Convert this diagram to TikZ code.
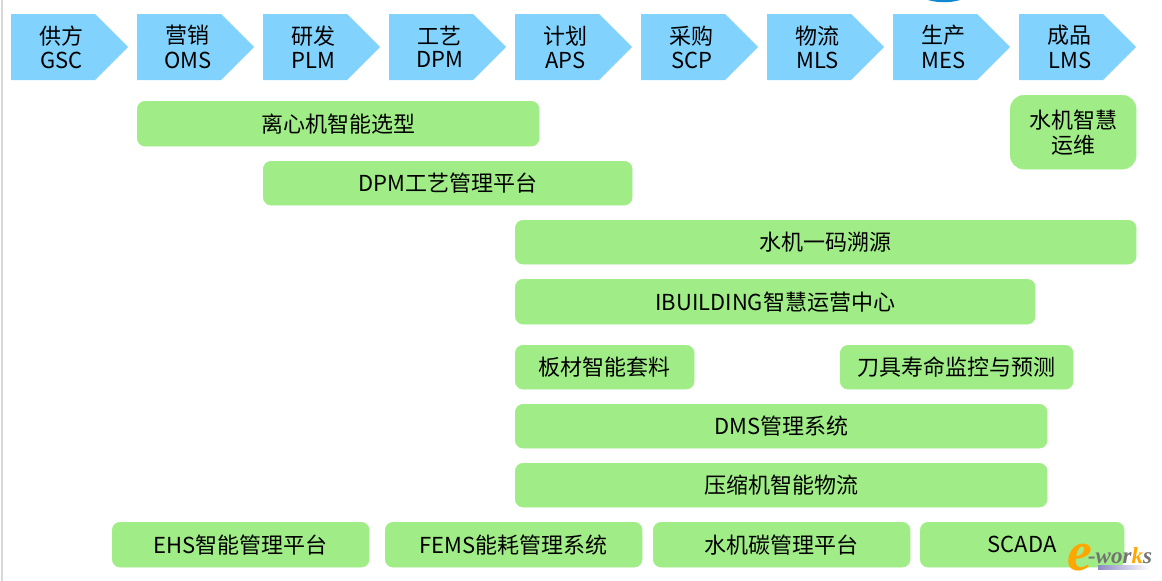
\documentclass[tikz,border=0pt]{standalone}
\usepackage{fontspec}
\setmainfont{Noto Sans CJK SC}
\usepackage{xcolor}
\usetikzlibrary{shapes.symbols, positioning}
\newfontfamily\logofont{Liberation Serif}
\definecolor{flowblue}{HTML}{81D3FD}
\definecolor{plangreen}{HTML}{A0ED87}
\newcommand{\chevtext}[2]{\makebox[84pt][c]{\hspace{17pt}\shortstack{#1\\[3pt]#2}}}
\tikzset{
  chevron/.style={signal, signal to=east, signal from=nowhere, signal pointer angle=90,
    fill=flowblue, minimum height=66pt, inner xsep=0pt, inner ysep=0pt, anchor=west,
    font=\fontsize{22}{25}\selectfont},
  plan/.style={rounded corners=8pt, fill=plangreen, draw=plangreen, anchor=north west, inner sep=0pt,
    align=center, font=\fontsize{22}{25}\selectfont},
}
\begin{document}
\begin{tikzpicture}[x=1pt, y=-1pt]
      \useasboundingbox (0, 0) rectangle (1162, 581);
      \fill[black!15] (1, 0) rectangle (3, 581);
      \fill[cyan!70!blue] (928, 0) .. controls (938, 3) and (950, 3) .. (960, 0) -- cycle;

      % value chain
      \foreach \name/\upper/\lower [count=\i from 0] in {gsc/供方/GSC, oms/营销/OMS, plm/研发/PLM, dpm/工艺/DPM,
        aps/计划/APS, scp/采购/SCP, mls/物流/MLS, mes/生产/MES, lms/成品/LMS}
        \node[chevron] (\name) at (11+126*\i, 47) {\chevtext{\upper}{\lower}};

      % projects
      \node[plan, minimum width=402pt, minimum height=45pt] (select) at (137, 101) {离心机智能选型};
      \node[plan, minimum width=369pt, minimum height=44pt] (craft) at (263, 161) {DPM工艺管理平台};
      \node[plan, minimum width=126pt, minimum height=74pt, rounded corners=14pt] (service) at (1010, 95) {水机智慧\\运维};
      \node[plan, minimum width=621pt, minimum height=44pt] (trace) at (515, 220) {水机一码溯源};
      \node[plan, minimum width=520pt, minimum height=45pt] (ibuilding) at (515, 279) {IBUILDING智慧运营中心};
      \node[plan, minimum width=179pt, minimum height=44pt] (nesting) at (515, 345) {板材智能套料};
      \node[plan, minimum width=233pt, minimum height=44pt] (tool) at (840, 345) {刀具寿命监控与预测};
      \node[plan, minimum width=532pt, minimum height=44pt] (dms) at (515, 404) {DMS管理系统};
      \node[plan, minimum width=532pt, minimum height=44pt] (logistics) at (515, 463) {压缩机智能物流};
      \node[plan, minimum width=257pt, minimum height=45pt] (ehs) at (112, 522) {EHS智能管理平台};
      \node[plan, minimum width=257pt, minimum height=45pt] (fems) at (385, 522) {FEMS能耗管理系统};
      \node[plan, minimum width=257pt, minimum height=45pt] (carbon) at (653, 522) {水机碳管理平台};
      \node[plan, minimum width=204pt, minimum height=45pt] (scada) at (920, 522) {SCADA};

      % watermark
      \fill[left color=blue!50!black!45, right color=white] (1098, 565) rectangle (1150, 569);
      \node[anchor=base west, inner sep=0pt, font=\logofont\itshape\bfseries\fontsize{23}{23}\selectfont] (logo) at (1067, 570)
        {\textcolor{orange!70!yellow}{\fontsize{56}{56}\selectfont e}\kern-4pt\raisebox{7pt}{\textcolor{black!55}{-wor}\textcolor{orange!70!yellow}{k}\textcolor{black!55}{s}}};
\end{tikzpicture}
\end{document}
